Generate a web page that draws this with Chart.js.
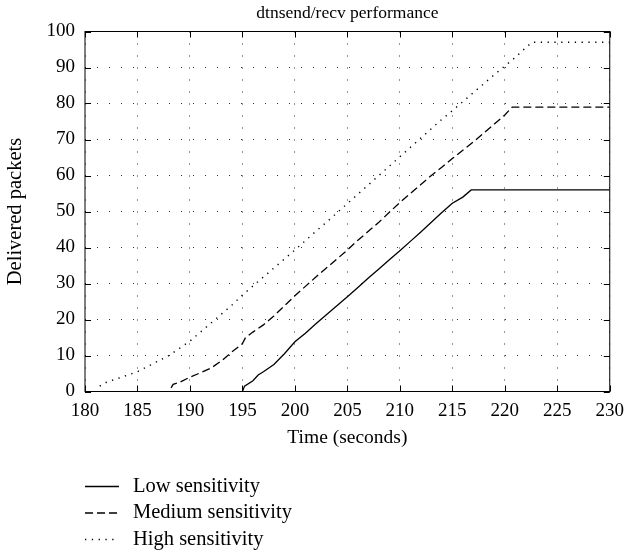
<!DOCTYPE html>
<html>
<head>
<meta charset="utf-8">
<script src="https://cdn.jsdelivr.net/npm/chart.js@4/dist/chart.umd.min.js"></script>
<style>
  body { margin: 0; background: #fff; }
</style>
</head>
<body>
<canvas id="perfChart" width="632" height="556"></canvas>
<script>
const chartTitle = 'dtnsend/recv performance';
const seriesNames = ['Low sensitivity', 'Medium sensitivity', 'High sensitivity'];

const lowTime = [195, 195.2, 196, 196.5, 197, 198, 199, 200, 201, 202, 203, 204, 205, 206, 207, 208, 209, 210, 211, 212, 213, 214, 215, 216, 216.8, 230];
const lowPackets = [0, 1.5, 3, 4.6, 5.5, 7.5, 10.5, 13.8, 16.2, 18.8, 21.3, 23.8, 26.3, 28.9, 31.5, 34, 36.6, 39.1, 41.7, 44.3, 47, 49.7, 52.3, 54, 56, 56];

const medTime = [188.2, 188.4, 189, 190, 191, 192, 193, 194, 195, 195.3, 196, 197, 198, 199, 200, 201, 202, 203, 204, 205, 206, 207, 208, 209, 210, 211, 212, 213, 214, 215, 216, 217, 218, 219, 220, 220.7, 230];
const medPackets = [1, 2, 2.5, 4, 5.2, 6.5, 8.5, 11, 13.3, 15, 16.5, 18.5, 21, 23.8, 26.6, 29.2, 31.8, 34.3, 36.8, 39.3, 42, 44.5, 47, 49.8, 52.5, 55, 57.5, 60, 62.3, 64.7, 67, 69.3, 71.8, 74.3, 76.8, 79, 79];

const highTime = [181.4, 182, 183, 184, 185, 186, 187, 188, 189, 190, 191, 192, 193, 194, 195, 196, 197, 198, 199, 200, 201, 202, 203, 204, 205, 206, 207, 208, 209, 210, 211, 212, 213, 214, 215, 216, 217, 218, 219, 220, 221, 222, 222.6, 230];
const highPackets = [1.5, 2.5, 3.5, 4.5, 5.5, 7, 8.5, 10, 12, 14, 16.5, 19, 21.5, 24, 26.8, 29.3, 31.8, 34.3, 36.8, 39.3, 41.9, 44.5, 47, 49.6, 52.2, 54.8, 57.4, 60, 62.6, 65.2, 67.8, 70.4, 73, 75.6, 78, 80.5, 83, 85.5, 88, 90.4, 92.8, 95.5, 97, 97];

const xTicks = [180, 185, 190, 195, 200, 205, 210, 215, 220, 225, 230];
const yTicks = [0, 10, 20, 30, 40, 50, 60, 70, 80, 90, 100];

const serif = "'Liberation Serif', 'DejaVu Serif', serif";

function toPoints(xs, ys) {
  return xs.map((x, i) => ({ x: x, y: ys[i] }));
}

// gnuplot style box with inward ticks, title over the plot, legend under it
const framePlugin = {
  id: 'frame',
  afterDatasetsDraw(chart) {
    const { ctx, chartArea: a, scales } = chart;
    ctx.save();
    ctx.strokeStyle = '#000';
    ctx.lineWidth = 1;
    ctx.setLineDash([]);
    ctx.strokeRect(a.left, a.top, a.right - a.left, a.bottom - a.top);
    ctx.beginPath();
    xTicks.forEach(v => {
      const px = Math.round(scales.x.getPixelForValue(v)) + 0.5;
      ctx.moveTo(px, a.bottom); ctx.lineTo(px, a.bottom - 6);
      ctx.moveTo(px, a.top); ctx.lineTo(px, a.top + 6);
    });
    yTicks.forEach(v => {
      const py = Math.round(scales.y.getPixelForValue(v)) + 0.5;
      ctx.moveTo(a.left, py); ctx.lineTo(a.left + 6, py);
      ctx.moveTo(a.right, py); ctx.lineTo(a.right - 6, py);
    });
    ctx.stroke();
    ctx.restore();
  },
  afterDraw(chart) {
    const { ctx, chartArea: a } = chart;
    ctx.save();
    ctx.fillStyle = '#000';
    ctx.textBaseline = 'middle';
    ctx.textAlign = 'center';
    ctx.font = '17.5px ' + serif;
    ctx.fillText(chartTitle, (a.left + a.right) / 2, 13);

    ctx.textAlign = 'left';
    ctx.font = '20.5px ' + serif;
    chart.data.datasets.forEach((ds, i) => {
      const y = 486.5 + i * 26.5;
      ctx.strokeStyle = '#000';
      ctx.lineWidth = ds.borderWidth;
      ctx.setLineDash(ds.borderDash || []);
      ctx.beginPath();
      ctx.moveTo(85, y);
      ctx.lineTo(119, y);
      ctx.stroke();
      ctx.fillText(ds.label, 133, y);
    });
    ctx.restore();
  }
};

new Chart(document.getElementById('perfChart'), {
  type: 'line',
  data: {
    datasets: [
      {
        label: seriesNames[0],
        data: toPoints(lowTime, lowPackets),
        borderColor: '#000',
        borderWidth: 1.3,
        borderDash: [],
        pointRadius: 0,
        tension: 0
      },
      {
        label: seriesNames[1],
        data: toPoints(medTime, medPackets),
        borderColor: '#000',
        borderWidth: 1.3,
        borderDash: [8, 4],
        pointRadius: 0,
        tension: 0
      },
      {
        label: seriesNames[2],
        data: toPoints(highTime, highPackets),
        borderColor: '#000',
        borderWidth: 1.4,
        borderDash: [1.3, 5.5],
        pointRadius: 0,
        tension: 0
      }
    ]
  },
  options: {
    responsive: false,
    animation: false,
    layout: { padding: { left: 0, right: 19, top: 31.5, bottom: 104.5 } },
    plugins: {
      legend: { display: false },
      tooltip: { enabled: false },
      title: { display: false }
    },
    scales: {
      x: {
        type: 'linear',
        min: 180,
        max: 230,
        afterBuildTicks: s => { s.ticks = xTicks.map(v => ({ value: v })); },
        afterFit: s => { s.height = 60; },
        grid: { color: '#333', lineWidth: 1, drawTicks: false },
        border: { display: false, dash: [1, 11] },
        ticks: { color: '#000', padding: 8, maxRotation: 0, font: { family: serif, size: 19 } },
        title: {
          display: true,
          text: 'Time (seconds)',
          color: '#000',
          font: { family: serif, size: 19.5 },
          padding: { top: 0, bottom: 2 }
        }
      },
      y: {
        min: 0,
        max: 100,
        afterBuildTicks: s => { s.ticks = yTicks.map(v => ({ value: v })); },
        afterFit: s => { s.width = 85; },
        grid: { color: '#333', lineWidth: 1, drawTicks: false },
        border: { display: false, dash: [1, 11] },
        ticks: { color: '#000', padding: 10, font: { family: serif, size: 19 } },
        title: {
          display: true,
          text: 'Delivered packets',
          color: '#000',
          font: { family: serif, size: 20.5 },
          padding: { top: 3, bottom: 0 }
        }
      }
    }
  },
  plugins: [framePlugin]
});
</script>
</body>
</html>
